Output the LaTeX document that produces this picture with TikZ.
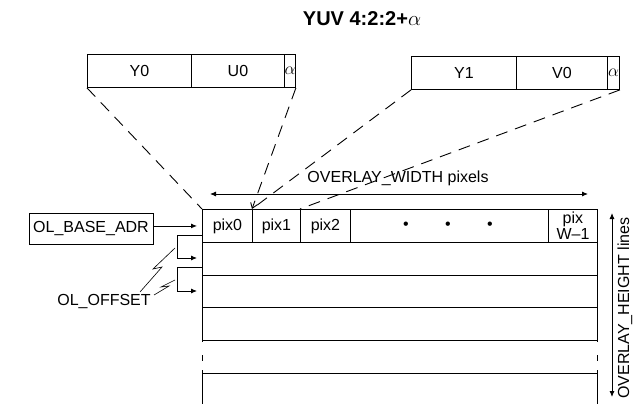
\documentclass[tikz,border=0pt]{standalone}
\usepackage{fontspec}
\setmainfont{Liberation Sans}
\usetikzlibrary{arrows.meta}
\begin{document}
\begin{tikzpicture}[x=1pt,y=-1pt, line width=0.9pt,
  every node/.style={font=\fontsize{16}{17}\selectfont, inner sep=0pt},
  cell/.style={draw, minimum height=33pt, anchor=north west},
  tip/.style={-{Latex[length=6pt,width=5pt]}},
  dbl/.style={{Latex[length=6pt,width=5pt]}-{Latex[length=6pt,width=5pt]}},
  fan/.style={dash pattern=on 12pt off 8pt},
  bolt/.style={line width=0.6pt}
]
\useasboundingbox (0,0) rectangle (633,404);

% title
\node (title) at (362,19) {\fontsize{20}{22}\selectfont\bfseries YUV 4:2:2+$\alpha$};

% top words
\node[cell, minimum width=104pt] (y0) at (87,54) {Y0};
\node[cell, minimum width=93pt] (u0) at (191,54) {U0};
\node[cell, minimum width=11pt] (a1) at (284,54) {$\alpha$};
\node[cell, minimum width=105pt] (y1) at (411,56) {Y1};
\node[cell, minimum width=91pt] (v0) at (516,56) {V0};
\node[cell, minimum width=12pt] (a2) at (607,56) {$\alpha$};

% first row of the overlay
\node[cell, minimum width=50pt] (pix0) at (202,209) {pix0};
\node[cell, minimum width=48pt] (pix1) at (252,209) {pix1};
\node[cell, minimum width=50pt] (pix2) at (300,209) {pix2};
\node[cell, minimum width=198pt] (dots) at (350,209) {};
\node[cell, minimum width=49pt, align=center, font=\fontsize{16}{16}\selectfont] (pixw) at (548,209) {pix\\W--1};
\node (d1) at (406,226) {•};
\node (d2) at (448,226) {•};
\node (d3) at (490,226) {•};

% other rows
\foreach \yy in {275,307,340,373} \draw (202,\yy) -- (597,\yy);
\foreach \xx in {202,597} {
  \draw (\xx,242) -- (\xx,342);
  \draw (\xx,355) -- (\xx,361);
  \draw (\xx,370) -- (\xx,404);
}

% fan lines
\draw[fan] (y0.south west) -- (pix0.north west);
\draw[fan, -{Straight Barb[length=5pt,width=7pt]}] (a1.south east) -- (pix1.north west);
\draw[fan] (y1.south west) -- (pix1.north west);
\draw[fan] (a2.south east) -- (pix2.north west);

% width arrow
\coordinate (wl) at (210,194);
\coordinate (wr) at (588,194);
\draw[dbl] (wl) -- (wr);
\node (wlab) at (398,178) {OVERLAY\_WIDTH pixels};

% height arrow
\coordinate (ht) at (612,213);
\coordinate (hb) at (612,397);
\draw[dbl] (ht) -- (hb);
\node[rotate=90] (hlab) at (625,308) {OVERLAY\_HEIGHT lines};

% base address
\node[draw, minimum width=124pt, minimum height=31pt] (base) at (91,228.5) {OL\_BASE\_ADR};
\draw[tip, shorten >=5pt] (base.east |- pix0.west) -- (pix0.west);

% offsets
\coordinate (o1s) at (202,235);
\coordinate (o1e) at (197,258);
\coordinate (o2s) at (202,267);
\coordinate (o2e) at (197,291);
\draw[tip] (o1s) -- (177,235) -- (177,258) -- (o1e);
\draw[tip] (o2s) -- (177,267) -- (177,291) -- (o2e);
\node (off) at (104,302) {OL\_OFFSET};
\draw[bolt] (140,292) -- (162,267) -- (153,269) -- (175,248);
\draw[bolt] (154,295) -- (169,286) -- (161,287) -- (175,280);
\end{tikzpicture}
\end{document}
